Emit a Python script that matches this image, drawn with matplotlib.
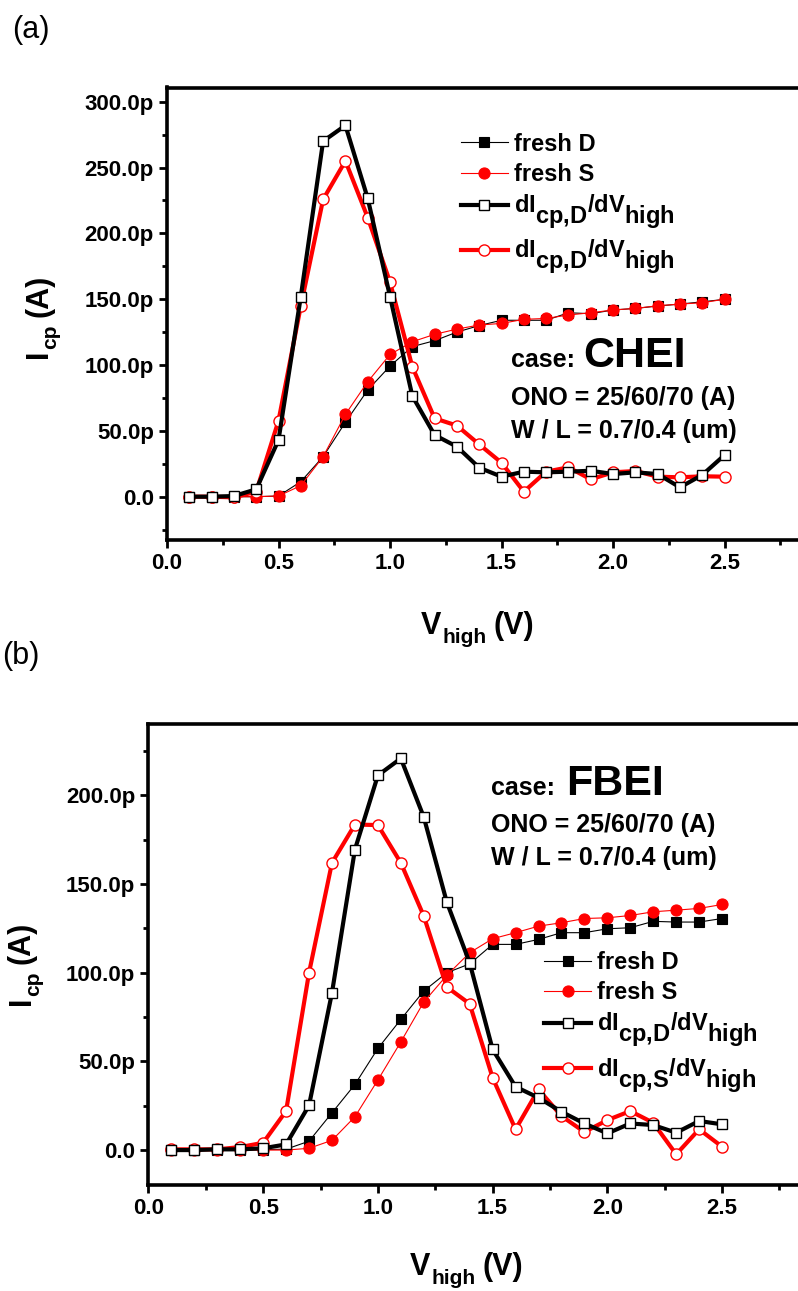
import numpy as np
import matplotlib
matplotlib.use("Agg")
import matplotlib.pyplot as plt
import matplotlib._mathtext as mathtext_internal
from matplotlib.ticker import MultipleLocator, FuncFormatter

# Fonts
plt.rcParams['font.family'] = ['Liberation Sans', 'DejaVu Sans']
plt.rcParams['font.weight'] = 'bold'
plt.rcParams['mathtext.fontset'] = 'custom'
plt.rcParams['mathtext.rm'] = 'Liberation Sans'
plt.rcParams['mathtext.bf'] = 'Liberation Sans:bold'
plt.rcParams['mathtext.default'] = 'bf'
# the legend subscripts are drawn at full size and sit low in the original figure
mathtext_internal.SHRINK_FACTOR = 1.0
mathtext_internal.FontConstantsBase.sub1 = 0.85

# Data (pA), V_high from 0.1 to 2.5 V
v_high = [0.1, 0.2, 0.3, 0.4, 0.5, 0.6, 0.7, 0.8, 0.9, 1.0, 1.1, 1.2, 1.3,
          1.4, 1.5, 1.6, 1.7, 1.8, 1.9, 2.0, 2.1, 2.2, 2.3, 2.4, 2.5]

# (a) CHEI
a_fresh_d = [0, 0, 0, 0, 0.5, 11.4, 30.4, 56.5, 81, 99.2, 114, 118.5, 125,
             130, 134, 134, 134, 139.7, 139, 141.8, 143, 144.8, 146.3, 148, 149.9]
a_fresh_s = [0, 0, 0, 0, 0.5, 8.4, 30.4, 62.5, 87.3, 108, 117.7, 123.3, 127.3,
             130.4, 131.6, 134.7, 135.4, 138, 139.7, 141.8, 143, 145, 146.3, 147.3, 150]
a_deriv_d = [0, 0, 0.5, 5.6, 43, 152, 270, 282, 226.6, 152, 76.5, 46.8, 38,
             22, 15.2, 19, 18.5, 19, 19.7, 17.2, 18.5, 17.2, 7.1, 16.5, 31.6]
a_deriv_s = [0, 0, -0.5, 3.8, 57.7, 144.8, 225.8, 255, 212, 163, 98.7, 59.5, 54,
             39.7, 25.8, 3.8, 19, 22.3, 13.2, 18.5, 19.5, 15.2, 14.7, 15.5, 15.2]

# (b) FBEI
b_fresh_d = [0, 0, 0, 0, 0.3, 0.5, 5, 21, 37, 57.3, 73.7, 89.7, 100,
             105, 116, 116, 118.8, 122.6, 122.6, 124.8, 125.4, 129, 128.6, 128.6, 130.6]
b_fresh_s = [0, 0, 0, 0, 0, 0, 1, 5.5, 18.8, 39.5, 61, 83.5, 98.5,
             111.3, 119.2, 122.6, 126.3, 128.2, 130.6, 131, 132.3, 134.4, 135.3, 136.3, 138.5]
b_deriv_d = [0, 0, 0.4, 0.4, 1, 3.2, 25.2, 88.7, 169.5, 211.3, 220.9, 187.8, 140,
             105.6, 56.8, 35.7, 29.5, 21.6, 15, 9.4, 15, 14.1, 9.8, 16.4, 14.5]
b_deriv_s = [0.4, 0.4, 0.4, 1.7, 4.1, 22, 100, 162, 183.6, 183.3, 162, 132, 92,
             82.5, 40.8, 11.7, 34.2, 19.2, 10.2, 16.9, 22, 15.4, -2.4, 11.7, 1.9]

labels_a = ['fresh D', 'fresh S', r'dI$_{cp{,}D}$/dV$_{high}$', r'dI$_{cp{,}D}$/dV$_{high}$']
labels_b = ['fresh D', 'fresh S', r'dI$_{cp{,}D}$/dV$_{high}$', r'dI$_{cp{,}S}$/dV$_{high}$']


def p_format(v, pos):
    if abs(v) < 1e-9:
        return '0.0'
    return f'{v:.1f}p'


def draw_panel(ax, fd, fs, dd, ds, labels):
    ax.plot(v_high, fd, color='black', lw=0.8, marker='s', ms=6.5,
            mfc='black', mec='black', mew=0.8, label=labels[0], zorder=2)
    ax.plot(v_high, fs, color='red', lw=0.8, marker='o', ms=8,
            mfc='red', mec='red', mew=0.8, label=labels[1], zorder=3)
    ax.plot(v_high, dd, color='black', lw=3, marker='s', ms=7.5,
            mfc='white', mec='black', mew=1, label=labels[2], zorder=5)
    ax.plot(v_high, ds, color='red', lw=3, marker='o', ms=8,
            mfc='white', mec='red', mew=1, label=labels[3], zorder=4)

    ax.set_xlim(0, 2.85)
    ax.xaxis.set_major_locator(MultipleLocator(0.5))
    ax.xaxis.set_minor_locator(MultipleLocator(0.25))
    ax.yaxis.set_major_locator(MultipleLocator(50))
    ax.yaxis.set_minor_locator(MultipleLocator(25))
    ax.yaxis.set_major_formatter(FuncFormatter(p_format))
    ax.xaxis.set_major_formatter(FuncFormatter(lambda v, p: f'{v:.1f}'))

    for side in ['left', 'bottom', 'top', 'right']:
        ax.spines[side].set_linewidth(2.6)
    ax.tick_params(which='major', direction='out', length=5.5, width=2,
                   labelsize=16, pad=4)
    ax.tick_params(which='minor', direction='out', length=3.5, width=2)
    ax.tick_params(top=False, right=False, which='both')
    for t in ax.get_xticklabels() + ax.get_yticklabels():
        t.set_fontweight('bold')


def x_label(ax, x0, y0):
    # V_high (V), positions in figure pixels, y0 is the baseline
    kw = dict(ha='left', va='baseline', fontweight='bold', annotation_clip=False)
    t1 = ax.annotate('V', xy=(x0, y0), xycoords='figure pixels', fontsize=22, **kw)
    t2 = ax.annotate('high', xy=(1, y0 - 9), xycoords=(t1, 'figure pixels'),
                     xytext=(1, 0), textcoords='offset pixels', fontsize=15, **kw)
    ax.annotate('(V)', xy=(1, y0), xycoords=(t2, 'figure pixels'),
                xytext=(7, 0), textcoords='offset pixels', fontsize=22, **kw)


def y_label(ax, x0, y0):
    # I_cp (A), rotated; x0 is the baseline, y0 the start
    kw = dict(ha='left', va='baseline', fontweight='bold', rotation=90,
              rotation_mode='anchor', annotation_clip=False)
    t1 = ax.annotate('I', xy=(x0, y0), xycoords='figure pixels', fontsize=22, **kw)
    t2 = ax.annotate('cp', xy=(x0 + 9, 1), xycoords=('figure pixels', t1),
                     xytext=(0, 1), textcoords='offset pixels', fontsize=15, **kw)
    ax.annotate('(A)', xy=(x0, 1), xycoords=('figure pixels', t2),
                xytext=(0, 7), textcoords='offset pixels', fontsize=22, **kw)


H = 1291
fig = plt.figure(figsize=(7.98, 12.91), dpi=100)

# (a)
ax1 = fig.add_axes([167 / 798, 1 - 540 / H, 635.6 / 798, 452.5 / H])
draw_panel(ax1, a_fresh_d, a_fresh_s, a_deriv_d, a_deriv_s, labels_a)
ax1.set_ylim(-32.9, 310.8)
x_label(ax1, 421, H - 634)
y_label(ax1, 47, H - 358)
ax1.legend(loc='upper left', bbox_to_anchor=(0.462, 0.9), frameon=False,
           fontsize=17, handlelength=2.0, handletextpad=0.25,
           labelspacing=0.3, borderpad=0, borderaxespad=0)
ax1.text(0.541, 0.382, 'case:', transform=ax1.transAxes, fontsize=18,
         fontweight='bold', va='baseline', ha='left')
ax1.text(0.655, 0.382, 'CHEI', transform=ax1.transAxes, fontsize=31,
         fontweight='bold', va='baseline', ha='left')
ax1.text(0.541, 0.298, 'ONO = 25/60/70 (A)', transform=ax1.transAxes,
         fontsize=18, fontweight='bold', va='baseline', ha='left')
ax1.text(0.541, 0.226, 'W / L = 0.7/0.4 (um)', transform=ax1.transAxes,
         fontsize=18, fontweight='bold', va='baseline', ha='left')

# (b)
ax2 = fig.add_axes([148.4 / 798, 1 - 1185 / H, 654 / 798, 461 / H])
draw_panel(ax2, b_fresh_d, b_fresh_s, b_deriv_d, b_deriv_s, labels_b)
ax2.set_ylim(-19.7, 240.3)
x_label(ax2, 410, H - 1275)
y_label(ax2, 30, H - 1005)
ax2.legend(loc='upper left', bbox_to_anchor=(0.605, 0.507), frameon=False,
           fontsize=17, handlelength=2.0, handletextpad=0.25,
           labelspacing=0.3, borderpad=0, borderaxespad=0)
ax2.text(0.524, 0.846, 'case:', transform=ax2.transAxes, fontsize=18,
         fontweight='bold', va='baseline', ha='left')
ax2.text(0.638, 0.846, 'FBEI', transform=ax2.transAxes, fontsize=31,
         fontweight='bold', va='baseline', ha='left')
ax2.text(0.524, 0.766, 'ONO = 25/60/70 (A)', transform=ax2.transAxes,
         fontsize=18, fontweight='bold', va='baseline', ha='left')
ax2.text(0.524, 0.694, 'W / L = 0.7/0.4 (um)', transform=ax2.transAxes,
         fontsize=18, fontweight='bold', va='baseline', ha='left')

# Panel tags
fig.text(12 / 798, 1 - 30 / H, '(a)', fontsize=22, fontweight='normal',
         va='center', ha='left')
fig.text(2 / 798, 1 - 656 / H, '(b)', fontsize=22, fontweight='normal',
         va='center', ha='left')

fig.savefig('out.png', dpi=100)
